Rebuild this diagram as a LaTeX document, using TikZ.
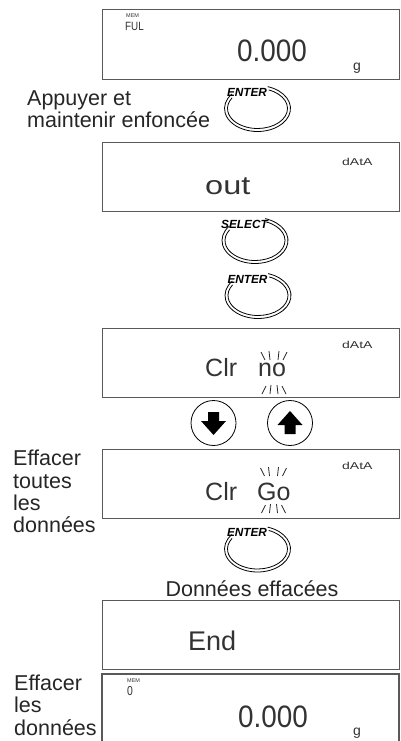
\documentclass[tikz,border=0pt]{standalone}
\usepackage{fontspec}
\setmainfont{Liberation Sans}
\usepackage{graphicx}
\usetikzlibrary{calc}
\tikzset{
 disp/.style={draw=black!65, line width=1.3pt, minimum width=297pt, anchor=north west, inner sep=0pt},
 lbl/.style={font=\fontsize{21.5}{22}\selectfont, inner sep=0pt, anchor=base west, text=black!85},
 btxt/.style={font=\fontsize{11.8}{12}\selectfont\bfseries\itshape, inner sep=0pt},
 looppath/.style={draw=black, line width=0.8pt},
 seg/.style={inner sep=0pt, anchor=base west, text=black!80},
 spark/.style={line width=0.8pt, black!85},
 arrbtn/.style={circle, draw, line width=0.8pt, minimum size=45pt, inner sep=0pt},
}
\newcommand\mybutton[4]{%
  \node[btxt] (#1) at (#2,#3) {#4};
  \coordinate (#1c) at ($(#1.center)+(10.5,16.5)$);
  \draw[looppath] (#1c) ++(72:33pt and 23pt) arc[start angle=72,end angle=-219,x radius=33pt,y radius=23pt];
  \draw[looppath] (#1c) ++(68:30pt and 20pt) arc[start angle=68,end angle=-212,x radius=30pt,y radius=20pt];
}
\newcommand\sparkle[3]{%
  \draw[spark] ({#1-13},{#2+1}) -- ({#1-9},{#2+9});
  \draw[spark] ({#1-5},{#2}) -- ({#1-4},{#2+9});
  \draw[spark] ({#1+5},{#2}) -- ({#1+4},{#2+9});
  \draw[spark] ({#1+13},{#2+1}) -- ({#1+9},{#2+9});
  \draw[spark] ({#1-12},{#3+10}) -- ({#1-8},{#3+2});
  \draw[spark] ({#1-4},{#3+10}) -- ({#1-3},{#3+1});
  \draw[spark] ({#1+4},{#3+10}) -- ({#1+3},{#3+1});
  \draw[spark] ({#1+12},{#3+10}) -- ({#1+8},{#3+2});
}
\begin{document}
\begin{tikzpicture}[x=1pt,y=-1pt]
\useasboundingbox (0,0) rectangle (401,741);

% displays
\node[disp, minimum height=70pt] (d1) at (102,9) {};
\node[disp, minimum height=69pt] (d2) at (102,142) {};
\node[disp, minimum height=69pt] (d3) at (102,328) {};
\node[disp, minimum height=69pt] (d4) at (102,449) {};
\node[disp, minimum height=69pt] (d5) at (102,600) {};
\coordinate (d6bl) at (102,750);
\coordinate (d6br) at (399,750);
\draw[draw=black!65, line width=1.3pt] (d6bl) -- (102,674) -- (399,674) -- (d6br);

% display 1
\node[seg, font=\fontsize{5.5}{5.5}\selectfont] (m1) at (126,17.5) {MEM};
\node[seg, font=\fontsize{12}{12}\selectfont] (f1) at (125,31) {\scalebox{0.82}[1]{FUL}};
\node[seg, font=\fontsize{31}{31}\selectfont] (w1) at (237,62) {\scalebox{0.9}[1]{0.000}};
\node[seg, font=\fontsize{14}{14}\selectfont] (g1) at (353,70.5) {g};

% display 2
\node[seg, font=\fontsize{10}{10}\selectfont] (a2) at (342,165) {\scalebox{1.4}[1]{dAtA}};
\node[seg, font=\fontsize{26}{26}\selectfont] (o2) at (205,194) {\scalebox{1.25}[1]{out}};

% display 3
\node[seg, font=\fontsize{10}{10}\selectfont] (a3) at (342,348) {\scalebox{1.4}[1]{dAtA}};
\node[seg, font=\fontsize{25}{25}\selectfont] (c3) at (205,376) {Clr};
\node[seg, font=\fontsize{25}{25}\selectfont] (n3) at (258,376) {no};
\sparkle{274}{351}{384}

% display 4
\node[seg, font=\fontsize{10}{10}\selectfont] (a4) at (342,469) {\scalebox{1.4}[1]{dAtA}};
\node[seg, font=\fontsize{25}{25}\selectfont] (c4) at (205,500) {Clr};
\node[seg, font=\fontsize{25}{25}\selectfont] (n4) at (257,500) {Go};
\sparkle{273.5}{467}{503}

% display 5
\node[seg, font=\fontsize{27}{27}\selectfont] (e5) at (188,650) {End};

% display 6
\node[seg, font=\fontsize{5.5}{5.5}\selectfont] (m6) at (127,682) {MEM};
\node[seg, font=\fontsize{13}{13}\selectfont] (z6) at (127,695) {\scalebox{0.8}[1]{0}};
\node[seg, font=\fontsize{31}{31}\selectfont] (w6) at (238,727) {\scalebox{0.9}[1]{0.000}};
\node[seg, font=\fontsize{14}{14}\selectfont] (g6) at (353,735) {g};

% buttons
\mybutton{b1}{247}{92}{ENTER}
\mybutton{b2}{244.5}{224}{SELECT}
\mybutton{b3}{247.5}{279}{ENTER}
\mybutton{b4}{247}{532.5}{ENTER}

% arrow buttons
\node[arrbtn] (dn) at (213.5,423) {};
\node[arrbtn] (up) at (290,423) {};
\fill ([shift={(-5.5,-11)}]dn.center) -- ([shift={(5.5,-11)}]dn.center) -- ([shift={(5.5,-2)}]dn.center) -- ([shift={(12.5,-2)}]dn.center) -- ([shift={(0,12)}]dn.center) -- ([shift={(-12.5,-2)}]dn.center) -- ([shift={(-5.5,-2)}]dn.center) -- cycle;
\fill ([shift={(-5.5,11)}]up.center) -- ([shift={(5.5,11)}]up.center) -- ([shift={(5.5,2)}]up.center) -- ([shift={(12.5,2)}]up.center) -- ([shift={(0,-12)}]up.center) -- ([shift={(-12.5,2)}]up.center) -- ([shift={(-5.5,2)}]up.center) -- cycle;

% labels
\node[lbl] (l1) at (27,106) {Appuyer et};
\node[lbl] (l2) at (27,128) {maintenir enfoncée};
\node[lbl] (l3) at (13,465) {Effacer};
\node[lbl] (l4) at (13,488) {toutes};
\node[lbl] (l5) at (13,510) {les};
\node[lbl] (l6) at (13,532) {données};
\node[lbl, anchor=base] (l7) at (252,596) {Données effacées};
\node[lbl] (l8) at (14,690) {Effacer};
\node[lbl] (l9) at (14,712) {les};
\node[lbl] (l10) at (14,735) {données};
\end{tikzpicture}
\end{document}
